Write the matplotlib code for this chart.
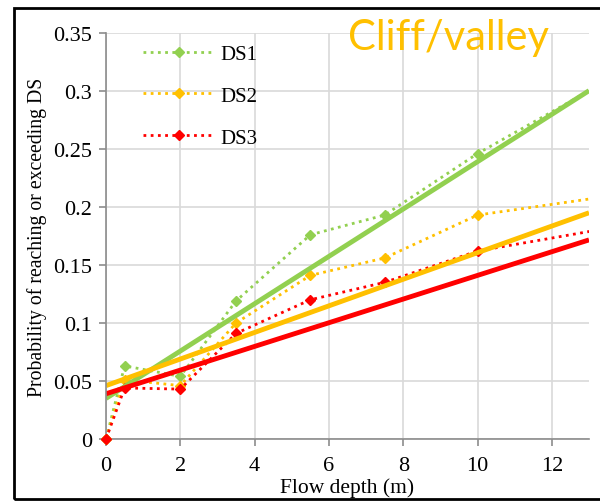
import matplotlib.pyplot as plt
from matplotlib.patches import Rectangle

# observed exceedance probabilities per flow depth
depth = [0, 0.5, 2, 3.5, 5.5, 7.5, 10, 15]
ds1 = [0.0, 0.063, 0.054, 0.119, 0.176, 0.193, 0.246, 0.336]
ds2 = [0.0, 0.051, 0.046, 0.100, 0.141, 0.156, 0.193, 0.216]
ds3 = [0.0, 0.044, 0.043, 0.091, 0.120, 0.135, 0.162, 0.190]

# linear fits (intercept, slope)
fit1 = (0.035, 0.0204)
fit2 = (0.046, 0.01146)
fit3 = (0.039, 0.0102)

green = "#92D050"
yellow = "#FFC000"
red = "#FF0000"

serif = ["Liberation Serif", "DejaVu Serif"]
plt.rcParams["font.family"] = serif

fig = plt.figure(figsize=(6.0, 5.02), dpi=100)
ax = fig.add_axes([0.1767, 0.1235, 0.805, 0.809])

dots = (0, (1, 1.6))
shown = list(range(7))
for vals, col, name in [(ds1, green, "DS1"), (ds2, yellow, "DS2"), (ds3, red, "DS3")]:
    ax.plot(depth, vals, color=col, linestyle=dots, linewidth=2,
            marker="D", markersize=5.5, markevery=shown, label=name)
    # first point sits on the axes corner, keep it unclipped
    ax.plot(depth[:1], vals[:1], linestyle="none", marker="D", markersize=5.5,
            color=col, clip_on=False, zorder=5)

xfit = [0, 13]
for (b, m), col in [(fit1, green), (fit2, yellow), (fit3, red)]:
    ax.plot(xfit, [b + m * x for x in xfit], color=col, linewidth=3.5,
            solid_capstyle="butt")

ax.set_xlim(0, 13)
ax.set_ylim(0, 0.35)
ax.set_xticks([0, 2, 4, 6, 8, 10, 12])
ax.set_xticklabels(["0", "2", "4", "6", "8", "10", "12"], family=serif)
ax.set_yticks([0, 0.05, 0.1, 0.15, 0.2, 0.25, 0.3, 0.35])
ax.set_yticklabels(["0", "0.05", "0.1", "0.15", "0.2", "0.25", "0.3", "0.35"],
                   family=serif)
ax.grid(True, color="#d9d9d9", linewidth=1.2)
ax.set_axisbelow(True)
for s in ["top", "right"]:
    ax.spines[s].set_visible(False)
for s in ["left", "bottom"]:
    ax.spines[s].set_color("#8c8c8c")
    ax.spines[s].set_linewidth(1.2)
ax.tick_params(colors="#8c8c8c", length=5, width=1.2, labelsize=16,
               labelcolor="black")
ax.tick_params(axis="y", pad=5)
ax.tick_params(axis="x", pad=7)

ax.set_xlabel("Flow depth (m)", fontsize=15.5)
ax.set_ylabel("Probability of reaching or exceeding DS", fontsize=14.2)
ax.xaxis.set_label_coords(0.5, -0.095)
ax.yaxis.set_label_coords(-0.122, 0.5)

ax.legend(loc="upper left", bbox_to_anchor=(0.038, 1.018), frameon=False,
          fontsize=15, handlelength=3.4, labelspacing=1.07, handletextpad=0.3)

fig.text(0.58, 0.9, "Cliff/valley", color=yellow, fontsize=30, family="Lato")

fig.patches.append(Rectangle((0.024, 0.004), 1.0, 0.978, transform=fig.transFigure,
                             fill=False, edgecolor="black", linewidth=2))

fig.savefig("out.png", dpi=100)
